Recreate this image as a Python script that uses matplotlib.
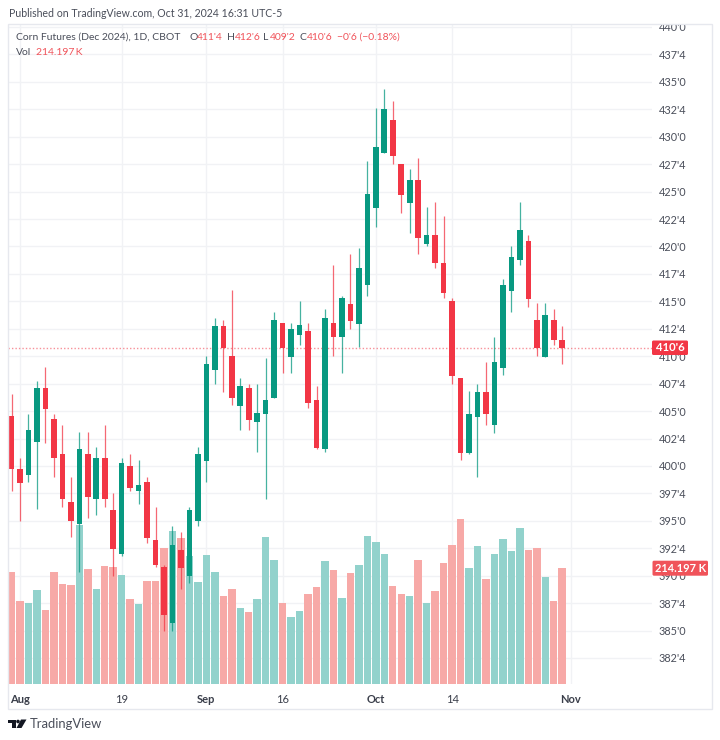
import matplotlib
matplotlib.use('Agg')
import matplotlib.pyplot as plt
from matplotlib.patches import Rectangle, Polygon, Circle, FancyBboxPatch

GREEN = '#089981'
RED = '#F23645'
VOL_GREEN = '#92D2CC'
VOL_RED = '#F7A9A7'
GRID = '#F1F2F5'
TEXT = '#4A4E5A'

# Jul 31 .. Oct 31 2024, daily session bars
highs = [406.55, 400.75, 404.76, 407.77, 408.99, 404.76, 403.76, 399.02, 403.06, 403.06,
         401.76, 403.76, 397.50, 400.75, 401.06, 400.54, 399.02, 396.26, 390.97, 394.53,
         394.01, 396.26, 401.76, 410.02, 413.51, 413.30, 416.03, 407.98, 407.47, 407.47,
         409.81, 414.03, 413.00, 413.00, 415.03, 413.00, 407.29, 414.27, 418.31, 415.50,
         419.31, 419.83, 427.76, 432.59, 434.32, 433.29, 427.55, 427.03, 428.03, 423.57,
         424.05, 422.78, 415.27, 407.98, 406.80, 407.47, 409.50, 411.78, 417.04, 420.04,
         424.05, 421.04, 414.82, 414.82, 414.30, 412.75]
lows = [397.75, 395.00, 398.57, 396.05, 402.06, 399.02, 396.26, 393.52, 390.30, 395.26,
        395.53, 396.26, 390.00, 391.82, 397.75, 396.53, 393.00, 390.82, 384.99, 384.99,
        388.79, 389.30, 394.53, 398.57, 407.47, 406.77, 405.55, 403.28, 403.28, 401.27,
        397.02, 406.19, 408.47, 408.47, 411.02, 405.28, 401.58, 401.27, 410.02, 408.47,
        412.51, 410.81, 415.52, 421.80, 428.52, 427.55, 423.08, 421.26, 419.31, 420.04,
        418.04, 415.30, 407.47, 400.54, 401.06, 399.02, 403.76, 403.03, 408.29, 414.03,
        418.34, 414.48, 410.02, 409.96, 411.02, 409.25]
opens = [404.55, 399.75, 399.17, 402.21, 407.07, 404.28, 401.06, 396.74, 394.68, 401.06,
         396.99, 400.75, 396.01, 391.94, 400.02, 397.68, 398.54, 393.28, 390.79, 385.69,
         392.31, 389.94, 394.95, 400.48, 408.74, 412.78, 410.02, 405.49, 407.07, 403.97,
         404.70, 406.19, 413.00, 409.93, 411.93, 412.30, 406.04, 401.51, 413.00, 411.75,
         414.79, 412.96, 416.49, 423.50, 428.52, 431.56, 427.55, 423.99, 426.03, 420.25,
         421.01, 418.52, 415.00, 407.98, 401.18, 404.49, 406.77, 403.70, 408.95, 415.94,
         418.74, 420.53, 413.27, 409.96, 413.27, 411.50]
closes = [399.72, 398.47, 403.28, 407.07, 405.19, 400.69, 396.99, 394.95, 401.55, 397.20,
          400.75, 396.99, 392.46, 400.24, 397.96, 398.23, 393.46, 390.97, 386.42, 392.80,
          390.70, 396.01, 401.06, 409.26, 412.78, 410.75, 406.19, 407.29, 404.19, 404.80,
          406.04, 413.30, 410.72, 412.51, 412.81, 405.74, 401.67, 413.51, 411.72, 415.27,
          413.24, 418.01, 424.75, 429.03, 432.56, 428.21, 424.72, 426.03, 420.77, 421.04,
          418.49, 415.76, 408.23, 401.18, 404.76, 406.77, 404.70, 409.50, 416.49, 419.01,
          421.53, 415.24, 410.75, 413.78, 411.45, 410.75]
volumes = [207, 152, 150, 172.5, 136, 207, 184, 182, 293, 211,
           175, 217, 215.5, 201, 156.6, 148, 190, 190, 250.5, 282,
           269, 236, 187, 238, 206, 162, 175, 140, 133, 157,
           271, 228, 150, 124, 134.5, 166, 178, 227, 210, 159,
           204, 218.6, 272, 261.6, 239, 180.5, 165, 162, 228, 149,
           171, 223, 256, 304, 214, 255, 193, 240, 266.5, 245,
           287, 246, 250.5, 196.5, 153, 214.197]

price_ticks = [440, 437.5, 435, 432.5, 430, 427.5, 425, 422.5, 420, 417.5, 415, 412.5,
               410, 407.5, 405, 402.5, 400, 397.5, 395, 392.5, 390, 387.5, 385, 382.5]
price_labels = ["440'0", "437'4", "435'0", "432'4", "430'0", "427'4", "425'0", "422'4",
                "420'0", "417'4", "415'0", "412'4", "410'0", "407'4", "405'0", "402'4",
                "400'0", "397'4", "395'0", "392'4", "390'0", "387'4", "385'0", "382'4"]
date_ticks = [1, 13, 23, 32, 43, 52, 66]
date_labels = ['Aug', '19', 'Sep', '16', 'Oct', '14', 'Nov']
bold_dates = ['Aug', 'Sep', 'Oct', 'Nov']

last_price = 410.75
last_price_label = "410'6"
last_volume_label = '214.197 K'

plt.rcParams['font.family'] = ['Lato', 'DejaVu Sans']

fig = plt.figure(figsize=(7.2, 7.4), dpi=100, facecolor='white')

# page overlay in pixels for the frame, header and branding
page = fig.add_axes([0, 0, 1, 1], zorder=5)
page.set_xlim(0, 720)
page.set_ylim(740, 0)
page.axis('off')
page.patch.set_alpha(0)

pane_pos = [8 / 720, (740 - 684) / 740, 644 / 720, 660 / 740]

vol_ax = fig.add_axes(pane_pos, zorder=1)
ax = fig.add_axes(pane_pos, zorder=2)
ax.patch.set_alpha(0)

xs = list(range(len(closes)))
vol_colors = [VOL_GREEN if c >= o else VOL_RED for o, c in zip(opens, closes)]
vol_ax.bar(xs, volumes, width=0.88, color=vol_colors, linewidth=0)
vol_ax.set_xlim(-0.417, 75.6)
vol_ax.set_ylim(0, 1215.7)
vol_ax.set_yticks([])
vol_ax.set_xticks(date_ticks)
vol_ax.set_xticklabels(date_labels)
vol_ax.tick_params(axis='x', length=0, pad=7, labelsize=8, labelcolor='#3A3E4A')
for lab in vol_ax.get_xticklabels():
    if lab.get_text() in bold_dates:
        lab.set_fontweight('bold')
vol_ax.grid(axis='x', color=GRID, lw=1)
vol_ax.set_axisbelow(True)
for s in vol_ax.spines.values():
    s.set_visible(False)

ax.set_xlim(-0.417, 75.6)
ax.set_ylim(380.13, 440.27)
ax.set_xticks([])
ax.yaxis.tick_right()
ax.set_yticks(price_ticks)
ax.set_yticklabels(price_labels)
ax.tick_params(axis='y', length=0, pad=5, labelsize=7.8, labelcolor=TEXT)
for s in ax.spines.values():
    s.set_visible(False)

# horizontal grid sits under the volume bars
for p in price_ticks:
    vol_ax.axhline((p - 380.13) / (440.27 - 380.13) * 1215.7, color=GRID, lw=1, zorder=0)

for i in xs:
    col = GREEN if closes[i] >= opens[i] else RED
    ax.vlines(i, lows[i], highs[i], color=col, lw=0.9, alpha=0.75, zorder=3)
    bottom = min(opens[i], closes[i])
    ax.bar(i, abs(closes[i] - opens[i]), bottom=bottom, width=0.66, color=col, linewidth=0, zorder=4)

ax.axhline(last_price, color=RED, lw=1, ls=(0, (1, 1.5)), alpha=0.55, zorder=2)

frame = Rectangle((8, 23.5), 704, 685.5, fill=False, ec='#E6E8EE', lw=1)
page.add_patch(frame)

clip = Rectangle((8, 23.5), 704, 685.5, transform=page.transData)
for lab in ax.get_yticklabels():
    lab.set_clip_path(clip)
    lab.set_clip_on(True)

# last value tags on the price scale
page.add_patch(FancyBboxPatch((652, 340.5), 36, 14.5, boxstyle='round,pad=0,rounding_size=1.5',
                              fc=RED, ec='none'))
page.text(670, 347.7, last_price_label, color='white', fontsize=8.2, fontweight='bold', ha='center', va='center')
page.add_patch(FancyBboxPatch((652.5, 560.7), 55.5, 15, boxstyle='round,pad=0,rounding_size=1.5',
                              fc='#F0535A', ec='none'))
page.text(680.3, 568.3, last_volume_label, color='white', fontsize=7.9, fontweight='bold',
          ha='center', va='center')

# header
page.text(9, 13.5, 'Published on TradingView.com, Oct 31, 2024 16:31 UTC-5',
          color=TEXT, fontsize=7.6, va='center')
page.text(16, 37.5, 'Corn Futures (Dec 2024), 1D, CBOT', color=TEXT, fontsize=7.5, va='center')
for x, letter, value in [(189, 'O', "411'4"), (226.5, 'H', "412'6"),
                         (263.5, 'L', "409'2"), (299, 'C', "410'6")]:
    page.text(x, 37.5, letter, color=TEXT, fontsize=7.5, va='center')
    page.text(x + 8 if letter != 'L' else x + 6.5, 37.5, value, color='#F0535A', fontsize=7.5, va='center')
page.text(337, 37.5, "\u22120'6 (\u22120.18%)", color='#F0535A', fontsize=7.5, va='center')
page.text(16, 52.5, 'Vol', color=TEXT, fontsize=7.5, va='center')
page.text(36.5, 52.5, '214.197\u2009K', color='#F0535A', fontsize=7.5, va='center')

# TradingView mark and name
page.add_patch(Polygon([(8, 719.5), (16, 719.5), (16, 728), (12, 728), (12, 723), (8, 723)],
                       fc='#131722', ec='none'))
page.add_patch(Circle((18, 721.5), 1.8, fc='#131722', ec='none'))
page.add_patch(Polygon([(21, 719.5), (26.5, 719.5), (21.5, 728), (16.5, 728)], fc='#131722', ec='none'))
page.text(30, 724, 'TradingView', color=TEXT, fontsize=9.4, va='center')

fig.savefig('out.png', dpi=100)
